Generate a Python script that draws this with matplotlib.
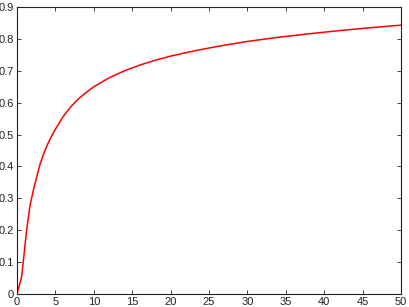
import matplotlib
matplotlib.use("Agg")
import matplotlib.pyplot as plt
from matplotlib.ticker import FuncFormatter

# values
xs = [0, 0.6, 0.9, 1.25, 1.7, 2.2, 2.6, 3.0, 3.5, 4.0, 4.5, 5.0, 6.0, 7.0, 8.0, 9.0,
      10, 12, 14, 16, 18, 20, 23, 26, 30, 34, 38, 42, 46, 50]
ys = [0, 0.054, 0.12, 0.20, 0.278, 0.333, 0.37, 0.407, 0.442, 0.47, 0.495, 0.517, 0.556,
      0.587, 0.612, 0.632, 0.65, 0.678, 0.70, 0.718, 0.733, 0.746, 0.762, 0.776, 0.792,
      0.805, 0.816, 0.826, 0.835, 0.843]

xticks = list(range(0, 51, 5))
yticks = [i / 10 for i in range(10)]

plt.rcParams['font.family'] = ['Liberation Sans', 'DejaVu Sans']

fig = plt.figure(figsize=(4.09, 3.07), dpi=100)
ax = fig.add_axes([17 / 409, 13 / 307, 384 / 409, 287 / 307])
ax.plot(xs, ys, color='red', linewidth=1.1)

ax.set_xlim(0, 50)
ax.set_ylim(0, 0.9)
ax.set_xticks(xticks)
ax.set_yticks(yticks)
ax.yaxis.set_major_formatter(FuncFormatter(lambda v, p: '0' if v == 0 else f'{v:g}'))
ax.tick_params(direction='in', length=3, width=0.6, top=True, right=True,
               labelsize=8, pad=2, colors='#222222')
for s in ax.spines.values():
    s.set_linewidth(0.8)
    s.set_color('#222222')

plt.savefig('out.png', dpi=100)
